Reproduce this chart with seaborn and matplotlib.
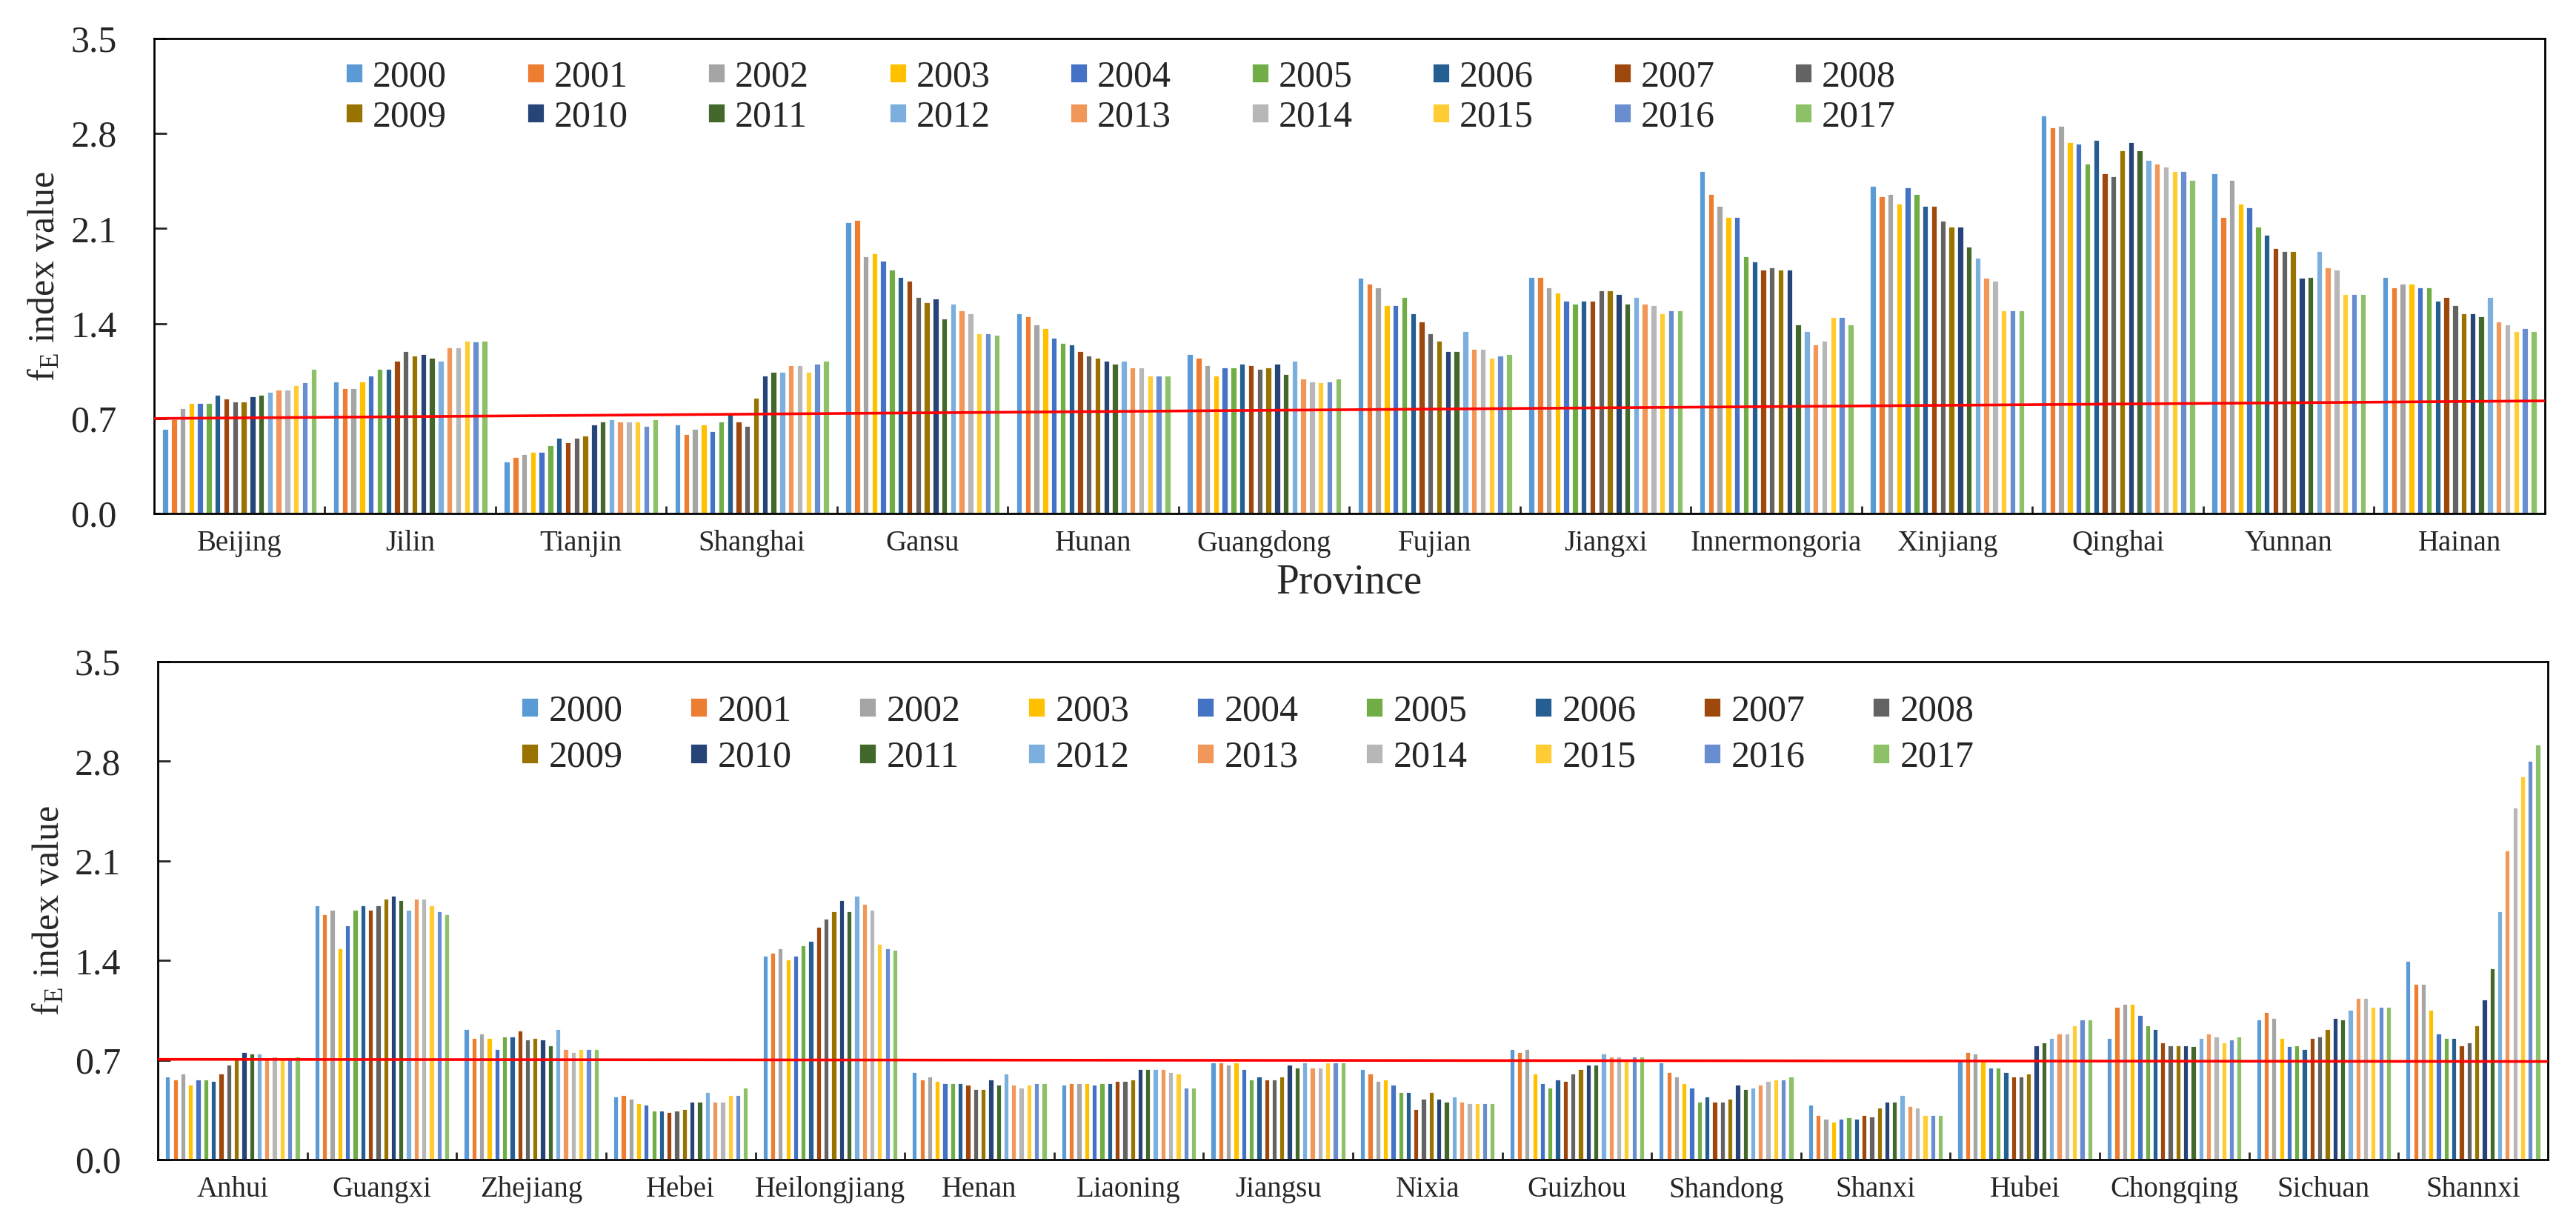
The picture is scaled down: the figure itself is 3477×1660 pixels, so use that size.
import numpy as np
import pandas as pd
import seaborn as sns
import matplotlib.pyplot as plt
from matplotlib.ticker import FixedLocator

years = [str(y) for y in range(2000, 2018)]
colors = ['#5B9BD5', '#ED7D31', '#A5A5A5', '#FFC000', '#4472C4', '#70AD47',
          '#255E91', '#9E480E', '#636363', '#997300', '#264478', '#43682B',
          '#7CAFDD', '#F1975A', '#B7B7B7', '#FFCD33', '#698ED0', '#8CC168']

# upper panel, one list per province (2000..2017)
beijing = [0.63, 0.70, 0.78, 0.82, 0.82, 0.82, 0.88, 0.85, 0.83, 0.83, 0.87, 0.88, 0.90, 0.92, 0.92, 0.95, 0.97, 1.07]
jilin = [0.98, 0.93, 0.93, 0.98, 1.02, 1.07, 1.07, 1.13, 1.20, 1.17, 1.18, 1.15, 1.13, 1.23, 1.23, 1.28, 1.27, 1.28]
tianjin = [0.39, 0.42, 0.44, 0.46, 0.46, 0.51, 0.56, 0.53, 0.56, 0.58, 0.66, 0.68, 0.70, 0.68, 0.68, 0.68, 0.65, 0.70]
shanghai = [0.66, 0.59, 0.63, 0.66, 0.61, 0.68, 0.74, 0.68, 0.65, 0.86, 1.02, 1.05, 1.05, 1.10, 1.10, 1.05, 1.11, 1.13]
gansu = [2.15, 2.17, 1.90, 1.92, 1.87, 1.80, 1.75, 1.72, 1.60, 1.56, 1.59, 1.44, 1.55, 1.50, 1.48, 1.33, 1.33, 1.32]
hunan = [1.48, 1.46, 1.40, 1.37, 1.30, 1.26, 1.25, 1.20, 1.17, 1.15, 1.13, 1.11, 1.13, 1.08, 1.08, 1.02, 1.02, 1.02]
guangdong = [1.18, 1.15, 1.10, 1.02, 1.08, 1.08, 1.11, 1.10, 1.07, 1.08, 1.11, 1.03, 1.13, 1.00, 0.98, 0.97, 0.98, 1.00]
fujian = [1.74, 1.70, 1.67, 1.54, 1.54, 1.60, 1.48, 1.42, 1.33, 1.28, 1.20, 1.20, 1.35, 1.22, 1.22, 1.15, 1.17, 1.18]
jiangxi = [1.75, 1.75, 1.67, 1.63, 1.57, 1.55, 1.57, 1.57, 1.65, 1.65, 1.62, 1.55, 1.60, 1.55, 1.54, 1.48, 1.50, 1.50]
innermongoria = [2.53, 2.36, 2.27, 2.19, 2.19, 1.90, 1.86, 1.80, 1.82, 1.80, 1.80, 1.40, 1.35, 1.25, 1.28, 1.45, 1.45, 1.40]
xinjiang = [2.42, 2.34, 2.36, 2.29, 2.41, 2.36, 2.27, 2.27, 2.16, 2.12, 2.12, 1.97, 1.89, 1.74, 1.72, 1.50, 1.50, 1.50]
qinghai = [2.94, 2.85, 2.86, 2.74, 2.73, 2.58, 2.76, 2.51, 2.49, 2.68, 2.74, 2.68, 2.61, 2.58, 2.56, 2.53, 2.53, 2.46]
yunnan = [2.51, 2.19, 2.46, 2.29, 2.26, 2.12, 2.06, 1.96, 1.94, 1.94, 1.74, 1.75, 1.94, 1.82, 1.80, 1.62, 1.62, 1.62]
hainan = [1.75, 1.67, 1.70, 1.70, 1.67, 1.67, 1.57, 1.60, 1.54, 1.48, 1.48, 1.46, 1.60, 1.42, 1.40, 1.35, 1.37, 1.35]

top_provinces = ['Beijing', 'Jilin', 'Tianjin', 'Shanghai', 'Gansu', 'Hunan', 'Guangdong',
                 'Fujian', 'Jiangxi', 'Innermongoria', 'Xinjiang', 'Qinghai', 'Yunnan', 'Hainan']
top_values = [beijing, jilin, tianjin, shanghai, gansu, hunan, guangdong,
              fujian, jiangxi, innermongoria, xinjiang, qinghai, yunnan, hainan]
top_ref = [0.70, 0.83]

# lower panel
anhui = [0.59, 0.57, 0.61, 0.53, 0.57, 0.57, 0.56, 0.61, 0.67, 0.71, 0.76, 0.75, 0.75, 0.72, 0.73, 0.71, 0.71, 0.73]
guangxi = [1.79, 1.73, 1.76, 1.49, 1.65, 1.76, 1.79, 1.76, 1.79, 1.84, 1.86, 1.83, 1.76, 1.84, 1.84, 1.79, 1.75, 1.73]
zhejiang = [0.92, 0.86, 0.89, 0.86, 0.78, 0.87, 0.87, 0.91, 0.85, 0.86, 0.85, 0.81, 0.92, 0.78, 0.76, 0.78, 0.78, 0.78]
hebei = [0.45, 0.46, 0.43, 0.40, 0.39, 0.35, 0.35, 0.34, 0.35, 0.36, 0.41, 0.41, 0.48, 0.41, 0.41, 0.46, 0.46, 0.51]
heilongjiang = [1.44, 1.46, 1.49, 1.41, 1.44, 1.51, 1.54, 1.64, 1.70, 1.75, 1.83, 1.75, 1.86, 1.80, 1.76, 1.52, 1.49, 1.48]
henan = [0.62, 0.57, 0.59, 0.56, 0.54, 0.54, 0.54, 0.53, 0.50, 0.50, 0.57, 0.53, 0.61, 0.53, 0.51, 0.53, 0.54, 0.54]
liaoning = [0.53, 0.54, 0.54, 0.54, 0.53, 0.54, 0.54, 0.56, 0.56, 0.57, 0.64, 0.64, 0.64, 0.64, 0.62, 0.61, 0.51, 0.51]
jiangsu = [0.69, 0.69, 0.67, 0.69, 0.64, 0.57, 0.59, 0.57, 0.57, 0.59, 0.67, 0.65, 0.69, 0.65, 0.65, 0.69, 0.69, 0.69]
nixia = [0.64, 0.61, 0.56, 0.57, 0.53, 0.48, 0.48, 0.36, 0.43, 0.48, 0.43, 0.41, 0.45, 0.41, 0.40, 0.40, 0.40, 0.40]
guizhou = [0.78, 0.76, 0.78, 0.61, 0.54, 0.51, 0.57, 0.56, 0.61, 0.64, 0.67, 0.67, 0.75, 0.73, 0.73, 0.71, 0.73, 0.73]
shandong = [0.69, 0.62, 0.59, 0.54, 0.51, 0.41, 0.45, 0.41, 0.41, 0.43, 0.53, 0.50, 0.51, 0.53, 0.56, 0.57, 0.57, 0.59]
shanxi = [0.39, 0.32, 0.29, 0.27, 0.29, 0.30, 0.29, 0.32, 0.31, 0.37, 0.41, 0.41, 0.46, 0.38, 0.37, 0.32, 0.32, 0.32]
hubei = [0.71, 0.76, 0.75, 0.70, 0.65, 0.65, 0.62, 0.59, 0.59, 0.61, 0.81, 0.83, 0.86, 0.89, 0.89, 0.95, 0.99, 0.99]
chongqing = [0.86, 1.08, 1.10, 1.10, 1.02, 0.95, 0.92, 0.83, 0.81, 0.81, 0.81, 0.80, 0.86, 0.89, 0.87, 0.83, 0.85, 0.87]
sichuan = [0.99, 1.04, 1.00, 0.86, 0.80, 0.81, 0.78, 0.86, 0.87, 0.92, 1.00, 0.99, 1.06, 1.14, 1.14, 1.08, 1.08, 1.08]
shannxi = [1.40, 1.24, 1.24, 1.06, 0.89, 0.86, 0.86, 0.81, 0.83, 0.95, 1.13, 1.35, 1.75, 2.18, 2.48, 2.70, 2.81, 2.92]

bottom_provinces = ['Anhui', 'Guangxi', 'Zhejiang', 'Hebei', 'Heilongjiang', 'Henan', 'Liaoning', 'Jiangsu',
                    'Nixia', 'Guizhou', 'Shandong', 'Shanxi', 'Hubei', 'Chongqing', 'Sichuan', 'Shannxi']
bottom_values = [anhui, guangxi, zhejiang, hebei, heilongjiang, henan, liaoning, jiangsu,
                 nixia, guizhou, shandong, shanxi, hubei, chongqing, sichuan, shannxi]
bottom_ref = [0.705, 0.69]

sns.set_theme(style='ticks')
plt.rcParams['font.family'] = ['Liberation Serif', 'DejaVu Serif']
plt.rcParams['mathtext.fontset'] = 'custom'
plt.rcParams['mathtext.rm'] = 'Liberation Serif'


def draw_panel(ax, provinces, values, ref, anchor, colspace, rowspace):
    rows = []
    for p, vals in zip(provinces, values):
        for y, v in zip(years, vals):
            rows.append((p, y, v))
    df = pd.DataFrame(rows, columns=['province', 'year', 'value'])
    n = len(provinces)

    sns.barplot(data=df, x='province', y='value', hue='year', order=provinces,
                hue_order=years, palette=colors, saturation=1, width=0.92, gap=0.2,
                errorbar=None, ax=ax)
    ax.plot([-0.5, n - 0.5], ref, color='red', lw=1.3, zorder=5)

    ax.set_xlim(-0.5, n - 0.5)
    ax.set_ylim(0, 3.5)
    ax.set_yticks(np.arange(0, 3.51, 0.7))
    ax.yaxis.set_major_formatter('{x:.1f}')
    ax.set_ylabel(r'$\mathregular{f_E}$ index value', fontsize=18, labelpad=4)
    ax.set_xlabel('')

    ax.tick_params(axis='y', direction='in', length=6, width=1, labelsize=18, pad=18, left=True)
    ax.tick_params(axis='x', which='major', length=0, labelsize=14, pad=8)
    ax.xaxis.set_minor_locator(FixedLocator(np.arange(0.5, n - 1, 1)))
    ax.tick_params(axis='x', which='minor', direction='in', length=3.6, width=1, bottom=True)
    for sp in ax.spines.values():
        sp.set_visible(True)
        sp.set_linewidth(1.0)
        sp.set_color('black')

    # legend row by row: 2000..2008 then 2009..2017
    leg = ax.get_legend()
    handles = list(leg.legend_handles)
    labels = [t.get_text() for t in leg.get_texts()]
    leg.remove()
    order = []
    for c in range(9):
        order += [c, c + 9]
    ax.legend([handles[i] for i in order], [labels[i] for i in order], ncol=9,
              loc='upper left', bbox_to_anchor=anchor, frameon=False,
              prop={'family': 'Liberation Serif', 'size': 18},
              handlelength=0.48, handleheight=0.48, handletextpad=0.26,
              columnspacing=colspace, labelspacing=rowspace, borderpad=0, borderaxespad=0)


fig = plt.figure(figsize=(17.385, 8.3), dpi=200)
ax1 = fig.add_axes([0.0598, 0.5825, 0.9281, 0.3862])
ax2 = fig.add_axes([0.0613, 0.0572, 0.9277, 0.4048])

draw_panel(ax1, top_provinces, top_values, top_ref, (0.080, 0.955), 2.15, 0.15)
ax1.set_xlabel('Province', fontsize=20, labelpad=3)
draw_panel(ax2, bottom_provinces, bottom_values, bottom_ref, (0.152, 0.935), 1.82, 0.32)

fig.savefig('out.png', dpi=200, facecolor='white')
